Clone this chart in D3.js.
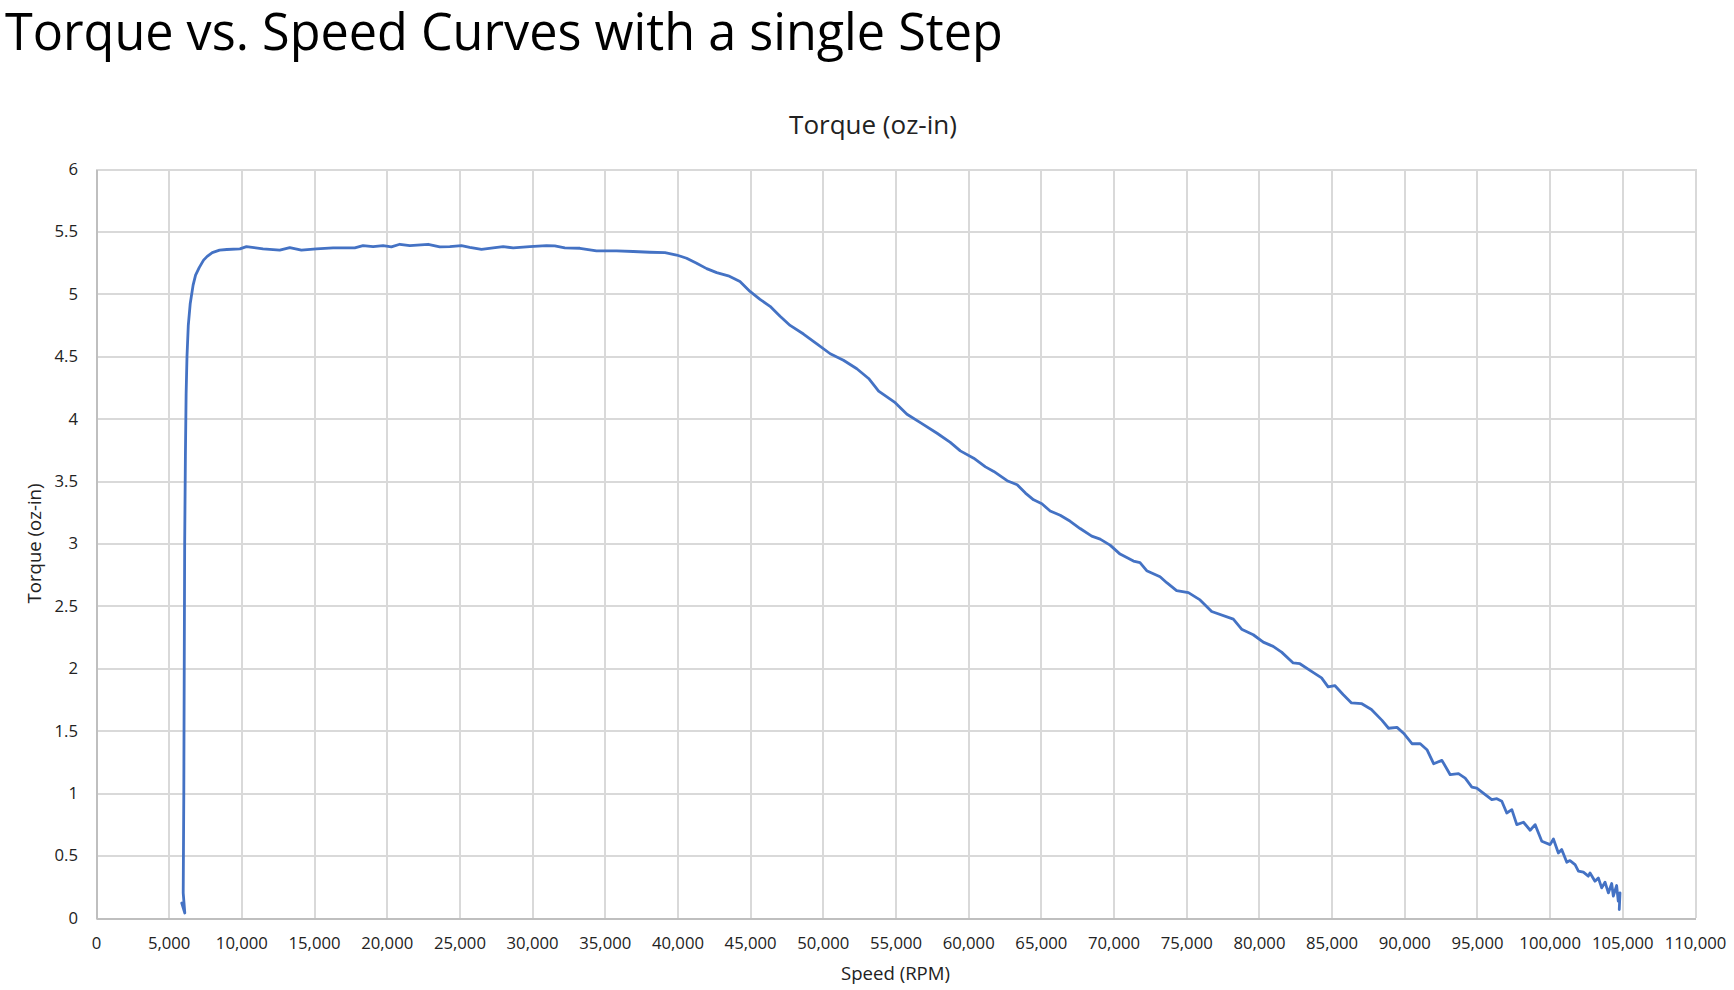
<!DOCTYPE html>
<meta charset="utf-8">
<style>

body {
  margin: 0;
  background: #fff;
}

svg text {
  font-family: "Open Sans", sans-serif;
  fill: #222;
}

.grid line {
  stroke: #d9d9d9;
  stroke-width: 2;
  shape-rendering: crispEdges;
}

.grid path {
  display: none;
}

.axis path {
  stroke: #bfbfbf;
  stroke-width: 2;
  shape-rendering: crispEdges;
}

.axis text {
  font-size: 16.7px;
}

.curve {
  fill: none;
  stroke: #4472c4;
  stroke-width: 2.8;
  stroke-linejoin: round;
  stroke-linecap: round;
}

</style>
<svg width="1734" height="990"></svg>
<script src="https://d3js.org/d3.v7.min.js"></script>
<script>

var pageTitle = "Torque vs. Speed Curves with a single Step";
var chartTitle = "Torque (oz-in)";
var xTitle = "Speed (RPM)";
var yTitle = "Torque (oz-in)";

var xTicks = [0, 5000, 10000, 15000, 20000, 25000, 30000, 35000, 40000, 45000, 50000, 55000,
              60000, 65000, 70000, 75000, 80000, 85000, 90000, 95000, 100000, 105000, 110000];
var yTicks = [0, 0.5, 1, 1.5, 2, 2.5, 3, 3.5, 4, 4.5, 5, 5.5, 6];

// [speed rpm, torque oz-in]
var torqueCurve = [
  [5900, 0.12], [6110, 0.04], [6000, 0.2], [6040, 1.0], [6070, 2.0], [6100, 3.0],
  [6150, 3.7], [6200, 4.2], [6260, 4.5], [6350, 4.75], [6480, 4.92], [6680, 5.07],
  [6850, 5.15], [7100, 5.21], [7400, 5.27], [7650, 5.30], [8000, 5.33], [8500, 5.35],
  [9000, 5.355], [9900, 5.36], [10350, 5.378], [11490, 5.36], [12640, 5.35], [13330, 5.37],
  [14130, 5.35], [15160, 5.36], [16310, 5.368], [17800, 5.368], [18370, 5.386], [19060, 5.378],
  [19750, 5.386], [20320, 5.376], [20900, 5.397], [21590, 5.386], [22850, 5.397], [23650, 5.376],
  [24340, 5.378], [25140, 5.386], [25710, 5.373], [26520, 5.357], [27320, 5.368], [28010, 5.378],
  [28700, 5.368], [29840, 5.378], [30990, 5.386], [31560, 5.384], [32250, 5.368], [33290, 5.365],
  [34430, 5.344], [35810, 5.344], [36960, 5.339], [38100, 5.333], [39140, 5.33], [39940, 5.311],
  [40630, 5.285], [41320, 5.245], [42010, 5.202], [42700, 5.17], [43500, 5.144], [44300, 5.098],
  [44990, 5.019], [45680, 4.955], [46370, 4.90], [47060, 4.82], [47750, 4.747], [48670, 4.678],
  [49590, 4.60], [50510, 4.52], [51420, 4.468], [52340, 4.40], [53150, 4.322], [53840, 4.22],
  [54980, 4.128], [55790, 4.035], [56710, 3.968], [57860, 3.883], [58770, 3.81], [59460, 3.742],
  [60380, 3.683], [61190, 3.614], [61760, 3.577], [62680, 3.503], [63370, 3.471], [63940, 3.404],
  [64500, 3.35], [65070, 3.319], [65640, 3.26], [66330, 3.226], [67020, 3.178], [67700, 3.12],
  [68500, 3.059], [69080, 3.035], [69760, 2.987], [70450, 2.915], [71370, 2.859], [71820, 2.846],
  [72280, 2.782], [73200, 2.734], [73660, 2.686], [74340, 2.622], [75150, 2.606], [75950, 2.548],
  [76750, 2.455], [78240, 2.394], [78810, 2.314], [79610, 2.269], [80300, 2.21], [80980, 2.176],
  [81560, 2.13], [82360, 2.043], [82820, 2.037], [83620, 1.976], [84310, 1.923], [84760, 1.851],
  [85220, 1.862], [85790, 1.79], [86370, 1.723], [87050, 1.718], [87740, 1.67], [88470, 1.583],
  [88920, 1.52], [89500, 1.527], [89950, 1.48], [90530, 1.396], [91100, 1.396], [91560, 1.348],
  [92020, 1.236], [92590, 1.263], [93160, 1.148], [93730, 1.156], [94190, 1.121], [94650, 1.049],
  [94990, 1.041], [95570, 0.988], [96020, 0.948], [96370, 0.956], [96710, 0.935], [97050, 0.841],
  [97400, 0.868], [97740, 0.748], [98200, 0.767], [98660, 0.703], [99000, 0.748], [99460, 0.615],
  [100030, 0.588], [100260, 0.633], [100600, 0.521], [100830, 0.548], [101180, 0.447], [101400, 0.46],
  [101750, 0.428], [101980, 0.375], [102320, 0.367], [102660, 0.335], [102780, 0.361], [103120, 0.295],
  [103350, 0.321], [103580, 0.241], [103810, 0.287], [104040, 0.201], [104270, 0.276], [104380, 0.175],
  [104610, 0.26], [104720, 0.135], [104840, 0.201], [104790, 0.068]
];

var svg = d3.select("svg"),
    margin = {top: 169, right: 39, bottom: 72, left: 96},
    width = svg.attr("width") - margin.left - margin.right,
    height = svg.attr("height") - margin.top - margin.bottom;

var x = d3.scaleLinear().domain([0, 110000]).range([0, width]);
var y = d3.scaleLinear().domain([0, 6]).range([height, 0]);

// page title, sized to the width it has in the picture
var title = svg.append("text")
    .attr("x", 5)
    .attr("y", 50)
    .style("font-size", "44px")
    .style("fill", "#000")
    .text(pageTitle);
var tw = title.node().getComputedTextLength();
title.style("font-size", (44 * 998 / tw) + "px");

svg.append("text")
    .attr("x", 873)
    .attr("y", 134)
    .attr("text-anchor", "middle")
    .style("font-size", "26px")
    .text(chartTitle);

var g = svg.append("g")
    .attr("transform", "translate(" + margin.left + "," + margin.top + ")");

// grid
g.append("g")
    .attr("class", "grid")
    .attr("transform", "translate(0," + height + ")")
    .call(d3.axisBottom(x).tickValues(xTicks).tickSize(-height).tickFormat(""));

g.append("g")
    .attr("class", "grid")
    .call(d3.axisLeft(y).tickValues(yTicks).tickSize(-width).tickFormat(""));

// axes
g.append("g")
    .attr("class", "axis")
    .attr("transform", "translate(0," + height + ")")
    .call(d3.axisBottom(x).tickValues(xTicks).tickSize(0).tickSizeOuter(0)
      .tickPadding(19).tickFormat(d3.format(",")));

g.append("g")
    .attr("class", "axis")
    .call(d3.axisLeft(y).tickValues(yTicks).tickSize(0).tickSizeOuter(0)
      .tickPadding(18).tickFormat(function(d) { return d; }));

g.selectAll(".axis text").style("font-family", "'Open Sans', sans-serif").style("fill", "#222");

// axis titles
svg.append("text")
    .attr("x", margin.left + width / 2)
    .attr("y", 980)
    .attr("text-anchor", "middle")
    .style("font-size", "18.6px")
    .text(xTitle);

svg.append("text")
    .attr("transform", "translate(41," + (margin.top + height / 2) + ") rotate(-90)")
    .attr("text-anchor", "middle")
    .style("font-size", "18.6px")
    .text(yTitle);

// curve
var line = d3.line()
    .x(function(d) { return x(d[0]); })
    .y(function(d) { return y(d[1]); });

g.append("path")
    .datum(torqueCurve)
    .attr("class", "curve")
    .attr("d", line);

</script>
